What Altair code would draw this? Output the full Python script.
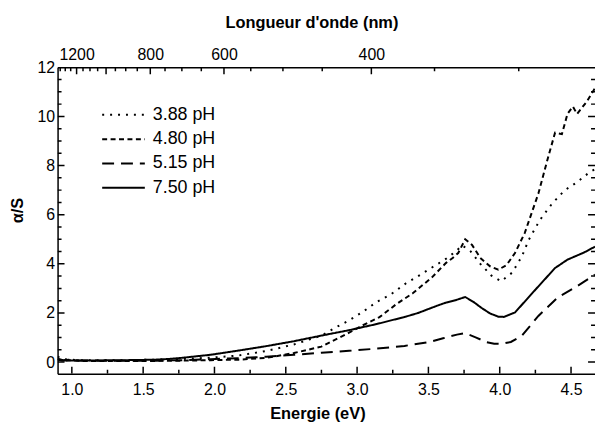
import altair as alt
import pandas as pd

# ---------------- data ----------------
SERIES = ["3.88 pH", "4.80 pH", "5.15 pH", "7.50 pH"]

E_388 = [0.90, 0.939, 0.977, 1.055, 1.200, 1.394, 1.588, 1.782, 1.975, 2.169, 2.363, 2.557,
         2.750, 2.847, 2.944, 3.041, 3.138, 3.235, 3.341, 3.428, 3.525, 3.622, 3.690, 3.738,
         3.797, 3.864, 3.942, 4.010, 4.087, 4.155, 4.203, 4.281, 4.368, 4.455, 4.542, 4.630,
         4.668]
V_388 = [0.22, 0.12, 0.1, 0.08, 0.07, 0.08, 0.1, 0.13, 0.18, 0.27, 0.45, 0.72,
         1.08, 1.4, 1.7, 2.05, 2.45, 2.75, 3.2, 3.5, 3.85, 4.2, 4.5, 4.75,
         4.5, 4.0, 3.52, 3.29, 3.64, 4.3, 4.97, 5.78, 6.46, 6.99, 7.32, 7.73,
         7.85]

E_480 = [0.90, 0.939, 0.977, 1.055, 1.200, 1.394, 1.588, 1.782, 1.975, 2.169, 2.363, 2.557,
         2.750, 2.944, 3.041, 3.157, 3.273, 3.390, 3.525, 3.622, 3.670, 3.709, 3.758, 3.806,
         3.864, 3.932, 3.990, 4.048, 4.107, 4.175, 4.271, 4.339, 4.388, 4.436, 4.475, 4.513,
         4.542, 4.610, 4.668]
V_480 = [0.12, 0.06, 0.08, 0.05, 0.04, 0.04, 0.05, 0.06, 0.08, 0.1, 0.17, 0.37,
         0.63, 1.2, 1.5, 1.83, 2.35, 2.8, 3.45, 4.03, 4.24, 4.44, 5.0, 4.77,
         4.24, 3.9, 3.76, 3.95, 4.44, 5.25, 6.86, 8.33, 9.34, 9.28, 10.1, 10.4,
         10.1, 10.6, 11.15]

E_515 = [0.90, 0.939, 0.977, 1.055, 1.200, 1.394, 1.588, 1.782, 1.975, 2.169, 2.363, 2.557,
         2.750, 2.944, 3.138, 3.332, 3.506, 3.603, 3.700, 3.758, 3.835, 3.903, 3.961, 4.010,
         4.078, 4.155, 4.271, 4.407, 4.542, 4.668]
V_515 = [0.14, 0.08, 0.1, 0.07, 0.06, 0.05, 0.06, 0.08, 0.12, 0.16, 0.22, 0.3,
         0.38, 0.46, 0.55, 0.66, 0.82, 0.97, 1.12, 1.18, 1.0, 0.82, 0.75, 0.74,
         0.82, 1.07, 1.88, 2.63, 3.09, 3.56]

E_750 = [0.90, 0.939, 0.977, 1.055, 1.200, 1.394, 1.588, 1.685, 1.782, 1.878, 1.975, 2.169,
         2.363, 2.557, 2.750, 2.944, 3.138, 3.341, 3.428, 3.554, 3.622, 3.690, 3.758, 3.816,
         3.874, 3.932, 3.990, 4.029, 4.107, 4.252, 4.388, 4.475, 4.591, 4.668]
V_750 = [0.1, 0.06, 0.07, 0.06, 0.07, 0.08, 0.1, 0.13, 0.18, 0.24, 0.3, 0.47,
         0.65, 0.85, 1.08, 1.3, 1.55, 1.85, 2.0, 2.28, 2.42, 2.52, 2.65, 2.45,
         2.2, 1.98, 1.85, 1.84, 2.02, 2.96, 3.83, 4.17, 4.46, 4.7]

# axis ticks / labels
X_MAJOR = [1.0, 1.5, 2.0, 2.5, 3.0, 3.5, 4.0, 4.5]
X_MINOR = [1.25, 1.75, 2.25, 2.75, 3.25, 3.75, 4.25]
Y_MAJOR = [0, 2, 4, 6, 8, 10, 12]
Y_MINOR = [0.5, 1, 1.5, 2.5, 3, 3.5, 4.5, 5, 5.5, 6.5, 7, 7.5, 8.5, 9, 9.5, 10.5, 11, 11.5]

# top axis: wavelength (nm), placed at E = 1240 / lambda
TOP_LABEL_NM = [1200, 800, 600, 400]
TOP_MAJOR_NM = [1200, 1000, 800, 600, 400]
TOP_MINOR_NM = [1350, 1300, 1250, 1150, 1100, 1050, 950, 900, 850, 750, 700, 650,
                550, 500, 450, 350, 300]
HC = 1240.0

TOP_LABEL_E = [round(HC / n, 6) for n in TOP_LABEL_NM]
TOP_MAJOR_E = [HC / n for n in TOP_MAJOR_NM]
TOP_MINOR_E = [HC / n for n in TOP_MINOR_NM]

DASHES = [[2, 6], [5, 3.5], [12, 7], [1, 0]]

rows = []
for name, es, vs in zip(SERIES, [E_388, E_480, E_515, E_750], [V_388, V_480, V_515, V_750]):
    for e, v in zip(es, vs):
        rows.append({"E": e, "a": v, "s": name})
df = pd.DataFrame(rows)

# ---------------- layout ----------------
W, H = 542, 309
FONT = "Liberation Sans"
X_DOM = [0.90, 4.668]
Y_DOM = [-0.47, 12]


def xs():
    return alt.Scale(domain=X_DOM, nice=False, zero=False)


def ys():
    return alt.Scale(domain=Y_DOM, nice=False, zero=False)


label_expr = "{}[indexof({}, datum.value)]".format(
    "[" + ",".join("'%d'" % t for t in TOP_LABEL_NM) + "]",
    "[" + ",".join(repr(v) for v in TOP_LABEL_E) + "]",
)

bottom_main = alt.Axis(orient="bottom", values=X_MAJOR, format=".1f", ticks=False, domain=True,
                       domainColor="black", domainWidth=1.5, grid=False, labelFont=FONT,
                       labelFontSize=16, labelColor="black", labelPadding=8,
                       title="Energie (eV)", titleFont=FONT, titleFontSize=16.5,
                       titleFontWeight="bold", titleColor="black", titleX=262, titleY=45,
                       titleAlign="center", titleBaseline="alphabetic")
left_main = alt.Axis(orient="left", values=Y_MAJOR, format="d", ticks=False, domain=True,
                     domainColor="black", domainWidth=1.5, grid=False, labelFont=FONT,
                     labelFontSize=16, labelColor="black", labelPadding=3,
                     title="α/S", titleFont=FONT, titleFontSize=16.5, titleFontWeight="bold",
                     titleColor="black", titleX=-40, titleY=144, titleAngle=270,
                     titleAlign="center", titleBaseline="middle")
top_main = alt.Axis(orient="top", values=TOP_LABEL_E, labelExpr=label_expr, ticks=False,
                    domain=True, domainColor="black", domainWidth=1.5, grid=False,
                    labelFont=FONT, labelFontSize=16, labelColor="black", labelPadding=5,
                    title="Longueur d'onde (nm)", titleFont=FONT, titleFontSize=16.5,
                    titleFontWeight="bold", titleColor="black", titleX=256, titleY=-40,
                    titleAlign="center", titleBaseline="alphabetic")

legend = alt.Legend(orient="none", legendX=69, legendY=38, title=None,
                    symbolType="M -3.78 0 L 1 0", symbolSize=324, symbolStrokeWidth=2,
                    symbolStrokeColor="black", symbolFillColor="transparent",
                    labelFont=FONT, labelFontSize=18, labelColor="black", labelOffset=7,
                    rowPadding=5.5, padding=0, labelLimit=300)

lines = alt.Chart(df).mark_line(color="black", strokeWidth=2, clip=True).encode(
    x=alt.X("E:Q", scale=xs(), axis=bottom_main),
    y=alt.Y("a:Q", scale=ys(), axis=left_main),
    strokeDash=alt.StrokeDash("s:N", scale=alt.Scale(domain=SERIES, range=DASHES), legend=legend),
)


def xticks(values, y_from, y_to, axis=None):
    d = pd.DataFrame({"v": values})
    xenc = alt.X("v:Q", scale=xs(), axis=axis) if axis is not None else alt.X("v:Q", scale=xs(), axis=None)
    return alt.Chart(d).mark_rule(color="black", strokeWidth=1.5, clip=True).encode(
        x=xenc, y=alt.value(y_from), y2=alt.value(y_to))


def yticks(values, x_from, x_to):
    d = pd.DataFrame({"v": values})
    return alt.Chart(d).mark_rule(color="black", strokeWidth=1.5, clip=True).encode(
        y=alt.Y("v:Q", scale=ys(), axis=None), x=alt.value(x_from), x2=alt.value(x_to))


layers = [
    lines,
    xticks(X_MAJOR, H, H - 7),
    xticks(X_MINOR, H, H - 4),
    xticks(TOP_MAJOR_E, 0, 7, axis=top_main),
    xticks(TOP_MINOR_E, 0, 4),
    yticks(Y_MAJOR, 0, 7),
    yticks(Y_MINOR, 0, 4),
    yticks(Y_MAJOR, W, W - 7),
    yticks(Y_MINOR, W, W - 4),
]

chart = alt.layer(*layers).resolve_axis(x="independent", y="independent").properties(
    width=W, height=H, autosize="none",
    padding={"left": 50, "top": 58, "right": 0, "bottom": 50},
).configure_view(strokeWidth=0)

chart.save("out.html", embed_options={"renderer": "svg", "actions": False})
